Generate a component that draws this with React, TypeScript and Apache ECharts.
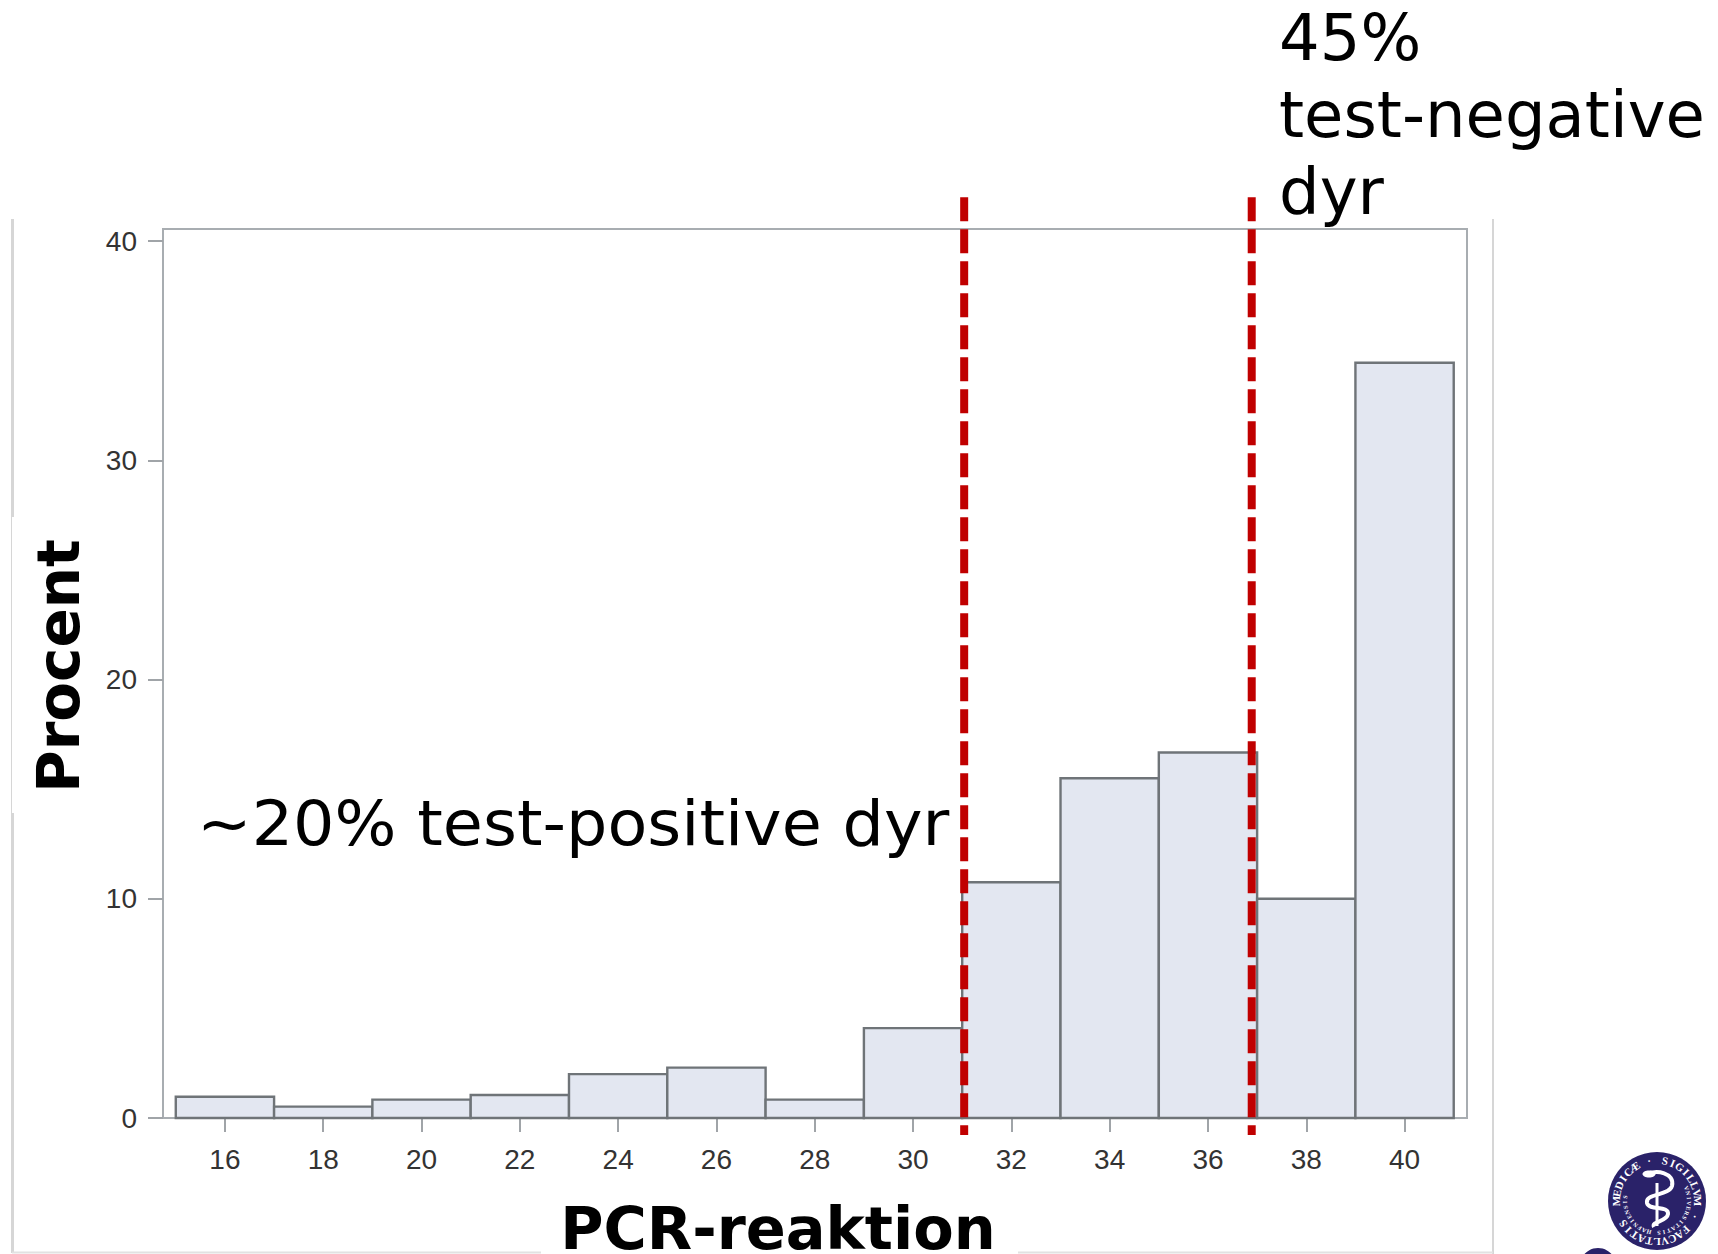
import React, { useEffect, useRef } from "react";
import * as echarts from "echarts";

const binCenters = [16, 18, 20, 22, 24, 26, 28, 30, 32, 34, 36, 38, 40];
const percentValues = [0.97, 0.52, 0.84, 1.05, 2.0, 2.3, 0.84, 4.1, 10.75, 15.5, 16.67, 10.0, 34.45];
const binHalfWidth = 1;
const yTicks = [0, 10, 20, 30, 40];
const cutoffs = [31.04, 36.89];
const cutoffYRange = [-0.78, 42];
const xTitle = "PCR-reaktion";
const yTitle = "Procent";
const noteLeft = "~20% test-positive dyr";
const noteRight = ["45%", "test-negative", "dyr"];
const sealRing = "MEDICÆ · SIGILLVM · FACVLTATIS  ";
const sealInner = "VNIVERSITATIS HAFNIENSIS";

const SNAKE = "M-12 -26 C0 -32 18 -28 15 -15 C12 -5 -12 -8 -10 2 C-8 10 12 4 11 13 C10 21 -6 20 -3 26";

function sealText(text: string, cx: number, cy: number, r: number, start: number, sweep: number, size: number) {
  const chars = Array.from(text);
  return chars.map((c, i) => {
    const a = start + (sweep * i) / chars.length;
    return {
      type: "text",
      x: cx + r * Math.cos(a),
      y: cy + r * Math.sin(a),
      rotation: -(a + Math.PI / 2),
      silent: true,
      style: { text: c, fill: "#ffffff", font: `bold ${size}px "Liberation Serif"`, textAlign: "center", textVerticalAlign: "middle" },
    };
  });
}

export default function App() {
  const ref = useRef<HTMLDivElement>(null);
  useEffect(() => {
    if (!ref.current) return;
    echarts.graphic.registerShape("snake", echarts.graphic.extendPath(SNAKE, {}) as any);
    const chart = echarts.init(ref.current, undefined, { renderer: "svg" });
    const cx = 1657, cy = 1201;
    chart.setOption({
      animation: false,
      backgroundColor: "#ffffff",
      grid: { left: 163, right: 251, top: 229, bottom: 136, show: true, borderColor: "#a8adb1", borderWidth: 2, backgroundColor: "transparent" },
      xAxis: {
        type: "value", min: 14.74, max: 41.27, splitLine: { show: false },
        axisLine: { show: true, onZero: false, lineStyle: { color: "#a8adb1", width: 2 } },
        axisTick: { show: true, length: 14, lineStyle: { color: "#a0a4a8", width: 2 }, customValues: binCenters },
        axisLabel: { customValues: binCenters, color: "#333333", fontFamily: "Liberation Sans", fontSize: 28, margin: 27 },
      },
      yAxis: {
        type: "value", min: 0, max: 40.55, splitLine: { show: false },
        axisLine: { show: true, lineStyle: { color: "#a8adb1", width: 2 } },
        axisTick: { show: true, length: 15, lineStyle: { color: "#a0a4a8", width: 2 }, customValues: yTicks },
        axisLabel: { customValues: yTicks, color: "#333333", fontFamily: "Liberation Sans", fontSize: 28, margin: 26 },
      },
      series: [
        {
          type: "custom", clip: false,
          data: binCenters.map((c, i) => [c, percentValues[i]]),
          encode: { x: 0, y: 1 },
          renderItem: (_: any, api: any) => {
            const c = api.value(0), v = api.value(1);
            const a = api.coord([c - binHalfWidth, v]);
            const b = api.coord([c + binHalfWidth, 0]);
            return { type: "rect", shape: { x: a[0], y: a[1], width: b[0] - a[0], height: b[1] - a[1] }, style: { fill: "#e3e7f1", stroke: "#6f7478", lineWidth: 2.4 } };
          },
        },
        {
          type: "custom", clip: false, z: 5,
          data: cutoffs.map((c) => [c]),
          encode: { x: 0 },
          renderItem: (_: any, api: any) => {
            const c = api.value(0);
            const a = api.coord([c, cutoffYRange[1]]);
            const b = api.coord([c, cutoffYRange[0]]);
            return { type: "line", shape: { x1: a[0], y1: a[1], x2: b[0], y2: b[1] }, style: { stroke: "#c00000", lineWidth: 8, lineDash: [24, 8] } };
          },
        },
      ],
      graphic: [
        { type: "line", silent: true, shape: { x1: 12.5, y1: 219, x2: 12.5, y2: 517 }, style: { stroke: "#d6d6d6", lineWidth: 3 } },
        { type: "line", silent: true, shape: { x1: 11.5, y1: 517, x2: 11.5, y2: 813 }, style: { stroke: "#d6d6d6", lineWidth: 1 } },
        { type: "line", silent: true, shape: { x1: 12.5, y1: 813, x2: 12.5, y2: 1253 }, style: { stroke: "#d6d6d6", lineWidth: 3 } },
        { type: "line", silent: true, shape: { x1: 1493, y1: 219, x2: 1493, y2: 1254 }, style: { stroke: "#d6d6d6", lineWidth: 2 } },
        { type: "line", silent: true, shape: { x1: 12, y1: 1252.5, x2: 541, y2: 1252.5 }, style: { stroke: "#e2e2e2", lineWidth: 2 } },
        { type: "line", silent: true, shape: { x1: 1018, y1: 1252.5, x2: 1493, y2: 1252.5 }, style: { stroke: "#e2e2e2", lineWidth: 2 } },
        { type: "text", x: 778, y: 1228, silent: true, style: { text: xTitle, fill: "#000", font: 'bold 59px "DejaVu Sans"', textAlign: "center", textVerticalAlign: "middle" } },
        { type: "text", x: 59, y: 666, rotation: Math.PI / 2, silent: true, style: { text: yTitle, fill: "#000", font: 'bold 58px "DejaVu Sans"', textAlign: "center", textVerticalAlign: "middle" } },
        { type: "text", x: 197, y: 823, scaleX: 1.035, silent: true, style: { text: noteLeft, fill: "#000", font: '63px "DejaVu Sans"', textAlign: "left", textVerticalAlign: "middle" } },
        ...noteRight.map((t, i) => ({ type: "text", x: 1279, y: 38 + 77 * i, silent: true, style: { text: t, fill: "#000", font: '64px "DejaVu Sans"', textAlign: "left", textVerticalAlign: "middle" } })),
        { type: "circle", silent: true, shape: { cx, cy, r: 49 }, style: { fill: "#2a2269" } },
        { type: "circle", silent: true, shape: { cx: 1598, cy: 1266, r: 18 }, style: { fill: "#2a2269" } },
        ...sealText(sealRing, cx, cy, 41, Math.PI, Math.PI * 2, 11),
        ...sealText(sealInner, cx, cy, 32, -Math.PI * 0.13, Math.PI * 1.22, 6),
        { type: "line", silent: true, shape: { x1: cx, y1: cy - 18, x2: cx, y2: cy + 25 }, style: { stroke: "#ffffff", lineWidth: 3 } },
        { type: "snake", x: cx, y: cy, silent: true, style: { fill: "none", stroke: "#ffffff", lineWidth: 4 } },
        { type: "ellipse", silent: true, shape: { cx: cx - 8, cy: cy - 27, rx: 6.5, ry: 3.5 }, style: { fill: "#ffffff" } },
      ],
    });
    return () => chart.dispose();
  }, []);
  return <div ref={ref} style={{ position: "absolute", left: 0, top: 0, width: 1718, height: 1254 }} />;
}
